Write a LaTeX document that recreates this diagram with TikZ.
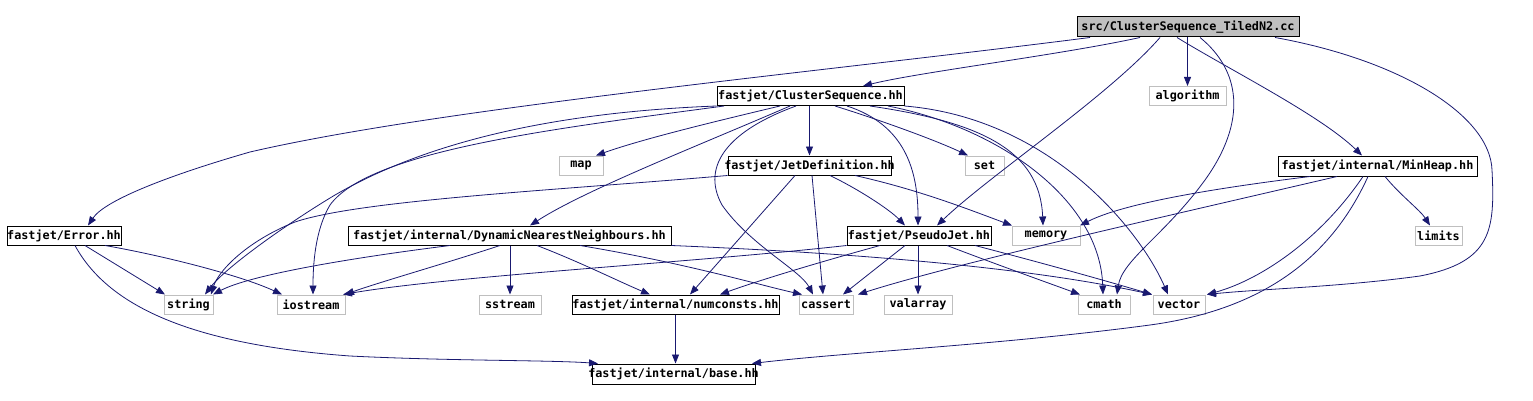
\documentclass[tikz,border=0pt]{standalone}
\usepackage{fontspec}
\setmonofont{DejaVu Sans Mono}
\usetikzlibrary{arrows.meta}
\definecolor{edgeblue}{HTML}{191970}
\definecolor{extgray}{HTML}{BFBFBF}
\begin{document}
\begin{tikzpicture}[x=1pt,y=-1pt,
  box/.style={draw=black, line width=1pt, minimum height=19pt, inner sep=0pt, fill=white,
    font=\ttfamily\bfseries\fontsize{11.8}{12}\selectfont,
    execute at begin node=\hbox to 0pt\bgroup\hss, execute at end node=\hss\egroup},
  ext/.style={box, draw=extgray},
  rootbox/.style={box, fill=extgray},
  edge/.style={draw=edgeblue, line width=0.8pt, -{Triangle[length=9pt,width=7pt]}}
]
\useasboundingbox (0,0) rectangle (1533,401);
% nodes
\node[rootbox, minimum width=222pt, minimum height=20pt] (root) at (1188,27) {src/ClusterSequence\_TiledN2.cc};
\node[box, minimum width=187pt] (CS) at (810.5,96) {fastjet/ClusterSequence.hh};
\node[ext, minimum width=77pt] (algorithm) at (1187.5,96) {algorithm};
\node[ext, minimum width=44pt] (map) at (581,165.5) {map};
\node[box, minimum width=163pt] (JetDef) at (809.5,165.5) {fastjet/JetDefinition.hh};
\node[ext, minimum width=39pt] (set) at (984.5,165.5) {set};
\node[box, minimum width=199pt, minimum height=20pt] (MinHeap) at (1377.5,166) {fastjet/internal/MinHeap.hh};
\node[box, minimum width=114pt] (Error) at (64,235.5) {fastjet/Error.hh};
\node[box, minimum width=323pt] (DNN) at (509.5,235.5) {fastjet/internal/DynamicNearestNeighbours.hh};
\node[box, minimum width=144pt] (PseudoJet) at (919,235.5) {fastjet/PseudoJet.hh};
\node[ext, minimum width=68pt] (memory) at (1046,235.5) {memory};
\node[ext, minimum width=47pt] (limits) at (1438.5,235.5) {limits};
\node[ext, minimum width=49pt] (string) at (188.5,304.5) {string};
\node[ext, minimum width=68pt] (iostream) at (311,304.5) {iostream};
\node[ext, minimum width=62pt] (sstream) at (510,304.5) {sstream};
\node[box, minimum width=207pt] (numconsts) at (675.5,304.5) {fastjet/internal/numconsts.hh};
\node[ext, minimum width=54pt] (cassert) at (826,304.5) {cassert};
\node[ext, minimum width=68pt] (valarray) at (918,304.5) {valarray};
\node[ext, minimum width=52pt] (cmath) at (1104,304.5) {cmath};
\node[ext, minimum width=52pt] (vector) at (1179,304.5) {vector};
\node[box, minimum width=163pt, minimum height=20pt] (base) at (673.5,374) {fastjet/internal/base.hh};
% root edges
\draw[edge] (1140,0 |- root.south) .. controls (1060,55) and (920,72) .. (863,0 |- CS.north);
\draw[edge] (algorithm |- root.south) -- (algorithm.north);
\draw[edge] (1160,0 |- root.south) .. controls (1110,95) and (990,175) .. (937,0 |- PseudoJet.north);
\draw[edge] (1200,0 |- root.south) .. controls (1240,70) and (1248,120) .. (1205,180) .. controls (1165,235) and (1122,260) .. (1117,0 |- cmath.north);
\draw[edge] (1177,0 |- root.south) .. controls (1230,70) and (1320,115) .. (1362,0 |- MinHeap.north);
\draw[edge] (1275,0 |- root.south) .. controls (1400,60) and (1490,115) .. (1492,170) .. controls (1495,230) and (1492,262) .. (1420,276) .. controls (1340,287) and (1260,289) .. (1207,0 |- vector.north);
\draw[edge] (1090,0 |- root.south) .. controls (820,72) and (440,108) .. (250,152) .. controls (170,175) and (105,200) .. (88,0 |- Error.north);
% ClusterSequence edges
\draw[edge] (CS.south west) .. controls (560,112) and (430,140) .. (335,195) .. controls (285,225) and (225,268) .. (205,0 |- string.north);
\draw[edge] (724,0 |- CS.south) .. controls (560,128) and (370,150) .. (330,205) .. controls (315,230) and (313,265) .. (313,0 |- iostream.north);
\draw[edge] (780,0 |- CS.south) .. controls (700,125) and (640,140) .. (596,0 |- map.north);
\draw[edge] (790,0 |- CS.south) .. controls (700,145) and (585,190) .. (530,0 |- DNN.north);
\draw[edge] (CS.south -| JetDef) -- (JetDef.north);
\draw[edge] (796,0 |- CS.south) .. controls (730,130) and (700,165) .. (722,205) .. controls (750,245) and (800,270) .. (813,0 |- cassert.north);
\draw[edge] (835,0 |- CS.south) .. controls (880,120) and (935,140) .. (968,0 |- set.north);
\draw[edge] (847,0 |- CS.south) .. controls (905,125) and (918,170) .. (918,0 |- PseudoJet.north);
\draw[edge] (870,0 |- CS.south) .. controls (980,122) and (1040,150) .. (1043,0 |- memory.north);
\draw[edge] (888,0 |- CS.south) .. controls (1000,128) and (1100,200) .. (1103,0 |- cmath.north);
\draw[edge] (CS.south east) .. controls (1050,118) and (1140,230) .. (1168,0 |- vector.north);
% JetDefinition edges
\draw[edge] (JetDef.south west) .. controls (560,190) and (360,200) .. (295,222) .. controls (245,242) and (218,272) .. (211,0 |- string.north);
\draw[edge] (795,0 |- JetDef.south) -- (690,0 |- numconsts.north);
\draw[edge] (812,0 |- JetDef.south) -- (823,0 |- cassert.north);
\draw[edge] (830,0 |- JetDef.south) .. controls (860,190) and (890,210) .. (905,0 |- PseudoJet.north);
\draw[edge] (855,0 |- JetDef.south) .. controls (920,190) and (970,210) .. (1012,0 |- memory.north);
% Error edges
\draw[edge] (85,0 |- Error.south) -- (165,0 |- string.north);
\draw[edge] (105,0 |- Error.south) .. controls (160,255) and (240,275) .. (282,0 |- iostream.north);
\draw[edge] (75,0 |- Error.south) .. controls (110,310) and (200,345) .. (350,356) .. controls (450,361) and (550,360) .. (598,0 |- base.north);
% DNN edges
\draw[edge] (450,0 |- DNN.south) .. controls (350,258) and (250,275) .. (213,0 |- string.north);
\draw[edge] (500,0 |- DNN.south) .. controls (450,262) and (380,282) .. (345,0 |- iostream.north);
\draw[edge] (DNN.south -| sstream) -- (sstream.north);
\draw[edge] (537,0 |- DNN.south) .. controls (580,262) and (620,282) .. (650,0 |- numconsts.north);
\draw[edge] (580,0 |- DNN.south) .. controls (680,262) and (760,285) .. (802,0 |- cassert.north);
\draw[edge] (DNN.south east) .. controls (900,255) and (1050,272) .. (1152,0 |- vector.north);
% PseudoJet edges
\draw[edge] (PseudoJet.south west) .. controls (700,262) and (450,276) .. (343,0 |- iostream.north);
\draw[edge] (880,0 |- PseudoJet.south) .. controls (820,262) and (760,280) .. (720,0 |- numconsts.north);
\draw[edge] (905,0 |- PseudoJet.south) -- (843,0 |- cassert.north);
\draw[edge] (PseudoJet.south -| valarray) -- (valarray.north);
\draw[edge] (947,0 |- PseudoJet.south) .. controls (990,262) and (1040,280) .. (1080,0 |- cmath.north);
\draw[edge] (975,0 |- PseudoJet.south) .. controls (1050,265) and (1110,282) .. (1152,0 |- vector.north);
% MinHeap edges
\draw[edge] (1310,0 |- MinHeap.south) .. controls (1200,190) and (1120,205) .. (1080,0 |- memory.north);
\draw[edge] (1337,0 |- MinHeap.south) .. controls (1150,220) and (950,265) .. (858,0 |- cassert.north);
\draw[edge] (1385,0 |- MinHeap.south) .. controls (1400,195) and (1420,210) .. (1430,0 |- limits.north);
\draw[edge] (1363,0 |- MinHeap.south) .. controls (1320,240) and (1260,280) .. (1207,0 |- vector.north);
\draw[edge] (1368,0 |- MinHeap.south) .. controls (1330,260) and (1260,310) .. (1150,325) .. controls (1000,345) and (850,352) .. (752,0 |- base.north);
% numconsts
\draw[edge] (numconsts.south) -- (numconsts.south |- base.north);
\end{tikzpicture}
\end{document}
